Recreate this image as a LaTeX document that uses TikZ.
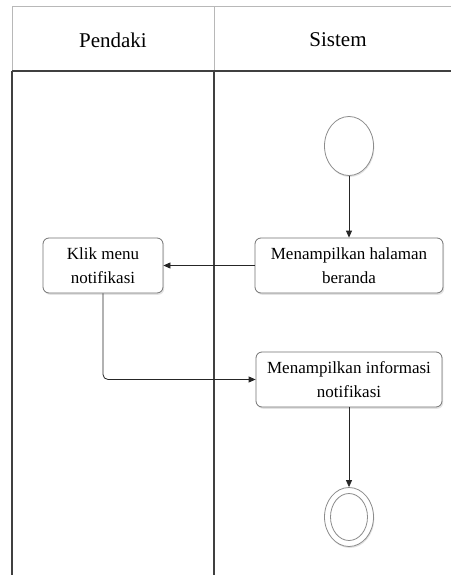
\documentclass[tikz,border=0pt]{standalone}
\usepackage{fontspec}
\setmainfont{Liberation Serif}
\usetikzlibrary{arrows.meta,shadows}
\definecolor{frameLight}{gray}{0.72}
\definecolor{frameDark}{gray}{0.25}
\definecolor{boxLine}{gray}{0.45}
\definecolor{circLine}{gray}{0.55}
\tikzset{
  lane/.style={line width=1.1pt, frameDark},
  laneHead/.style={line width=1pt, frameLight},
  actbox/.style={draw=boxLine, line width=0.8pt, rounded corners=6pt, fill=white,
    minimum width=188pt, minimum height=55pt, align=center, inner sep=2pt,
    font=\fontsize{17}{24}\selectfont,
    drop shadow={shadow xshift=1.2pt, shadow yshift=-1.8pt, fill=black!18, opacity=0.6}},
  startnode/.style={draw=circLine, line width=0.8pt, ellipse, fill=white,
    minimum width=49pt, minimum height=59pt, inner sep=0pt,
    drop shadow={shadow xshift=0.8pt, shadow yshift=-1.5pt, fill=black!18, opacity=0.6}},
  flow/.style={draw=black!85, line width=0.8pt, -{Triangle[length=7pt,width=6pt]}},
  headtext/.style={font=\fontsize{21}{25}\selectfont}
}
\usetikzlibrary{shapes.geometric}
\begin{document}
\begin{tikzpicture}[x=1pt,y=-1pt]
\useasboundingbox (0,0) rectangle (451,575);
\fill[white] (0,0) rectangle (451,575);

% swimlane frame
\draw[laneHead] (12,7) -- (451,7);
\draw[laneHead] (12,7) -- (12,71);
\draw[laneHead] (214,7) -- (214,71);
\draw[lane] (12,71) -- (451,71);
\draw[lane] (12,71) -- (12,575);
\draw[lane] (214,71) -- (214,575);

% lane titles
\node[headtext] (hPendaki) at (113,40) {Pendaki};
\node[headtext] (hSistem) at (338,40) {Sistem};

% activity nodes
\node[startnode] (start) at (349,146) {};
\node[actbox] (beranda) at (349,265.5) {Menampilkan halaman\\beranda};
\node[actbox, minimum width=120pt] (klik) at (103,265.5) {Klik menu\\notifikasi};
\node[actbox, minimum width=186pt] (info) at (349,379.5) {Menampilkan informasi\\notifikasi};
\node[startnode] (stop) at (349,517) {};
\node[draw=circLine, line width=0.8pt, ellipse, minimum width=37pt, minimum height=47pt, inner sep=0pt] (stopIn) at (stop.center) {};

% control flow
\draw[flow] (start) -- (beranda);
\draw[flow] (beranda) -- (klik);
\draw[flow, rounded corners=5pt] (klik.south) |- (info.west);
\draw[flow] (info) -- (stop);
\end{tikzpicture}
\end{document}
